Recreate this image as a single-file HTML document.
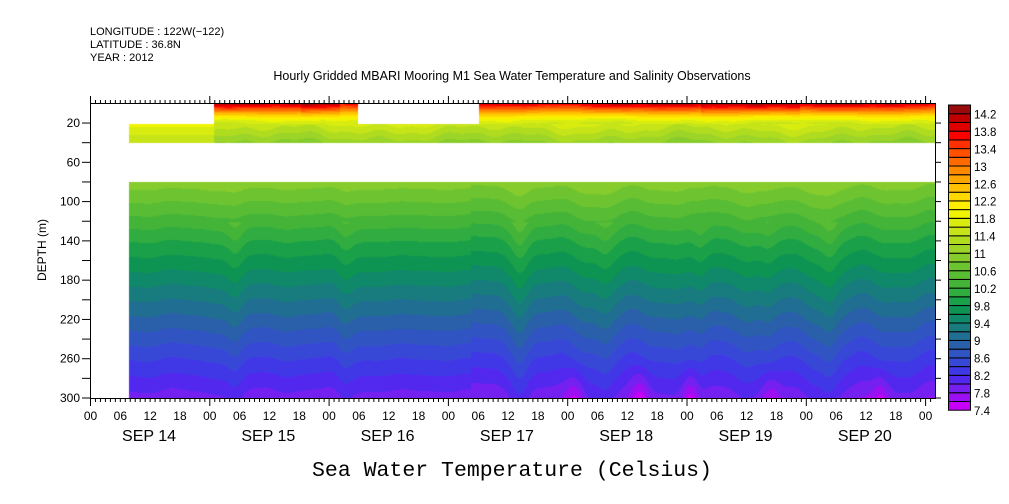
<!DOCTYPE html>
<html><head><meta charset="utf-8"><style>
html,body{margin:0;padding:0;background:#fff;}
#w{position:relative;width:1009px;height:504px;overflow:hidden;font-family:"Liberation Sans",sans-serif;}
canvas{position:absolute;left:90px;top:104px;}
svg{position:absolute;left:0;top:0;}
</style></head><body><div id="w">
<canvas id="c" width="845" height="294"></canvas>
<svg id="s" width="1009" height="504" font-family="Liberation Sans, sans-serif"></svg>
</div>
<script>
var P=["#c800f5","#9a10f2","#7420f0","#5228ee","#4038e6","#3848d6","#3055c2","#2a60aa","#206e92","#187c7e","#10886a","#0e9452","#1aa048","#30ac40","#44b438","#58bc34","#6ec430","#86cc2c","#9cd428","#b0dc20","#c6e418","#d8ec10","#f0f400","#ffee00","#ffd800","#ffc000","#ffa500","#ff8a00","#ff6a00","#ff5000","#ff3000","#ff0000","#e00000","#c00000","#9b0a0a"];
function hex(h){return [parseInt(h.substr(1,2),16),parseInt(h.substr(3,2),16),parseInt(h.substr(5,2),16)];}
var RGB=P.map(hex);
function ci(T){var i=Math.floor((T-7.4)/0.2);return i<0?0:i>34?34:i;}
var c=document.getElementById('c'),ctx=c.getContext('2d'),img=ctx.createImageData(845,294),d=img.data;
function n(x,s){return Math.sin(x*0.031+s)*0.5+Math.sin(x*0.083+s*2.1)*0.35+Math.sin(x*0.19+s*3.7)*0.2;}
function lowT(x,dep){
  var act=x>470?1:(x<340?0.4:0.2);
  var dip=0;
  [235,345,520,605,700,768,830].forEach(function(p,k){dip+=Math.exp(-Math.pow((x-p)/9,2))*(k%2?9:13);});
  var dd=dep-act*(n(x,1.3)*9+n(x,4.1)*6)*(0.4+dep/300)-dip*(dep>120?1:0.3);
  var T;
  if(dd<80)T=10.9;else if(dd<140)T=10.9-(dd-80)/60*0.9;else if(dd<200)T=10.0-(dd-140)/60*0.8;
  else if(dd<260)T=9.2-(dd-200)/60*0.8;else T=8.4-(dd-260)/40*0.5;
  if(dep>260&&x>480){var sp=0;[575,640,690,770,880].forEach(function(p){sp+=Math.exp(-Math.pow((x-p)/9,2));});T-=sp*0.4*(dep-260)/40;}
  return T;
}
function midT(x,dep){
  var f=(dep-20)/20;
  if(x<214)return 11.9-f*0.5;
  return 11.6-f*0.6+n(x,2.2)*0.2;
}
function topT(x,dep){
  var f=dep/20;var a=(x>700&&x<800)||(x>300&&x<340)?0.4:0;
  return 11.6+(2.4+a+n(x,0.7)*0.4)*Math.pow(1-f,1.4)+n(x,5)*0.15;
}
for(var py=0;py<294;py++){var dep=(py+104-103.4)/0.982;
 for(var px=0;px<845;px++){var X=px+90,T=null;
  if(dep>=80&&X>=129)T=lowT(X,dep);
  else if(dep>=20&&dep<40&&X>=129)T=midT(X,dep);
  else if(dep<20&&((X>=214&&X<358)||X>=479))T=topT(X,dep);
  var o=(py*845+px)*4;
  if(T===null){d[o]=d[o+1]=d[o+2]=255;}else{var r=RGB[ci(T)];d[o]=r[0];d[o+1]=r[1];d[o+2]=r[2];}
  d[o+3]=255;}}
ctx.putImageData(img,0,0);
var s='';
function L(x1,y1,x2,y2,w){s+='<line x1="'+x1+'" y1="'+y1+'" x2="'+x2+'" y2="'+y2+'" stroke="#000" stroke-width="'+(w||1)+'"/>';}
function Tx(x,y,t,sz,a,ex){s+='<text x="'+x+'" y="'+y+'" font-size="'+sz+'" text-anchor="'+(a||'start')+'" '+(ex||'')+'>'+t+'</text>';}
s+='<rect x="90.5" y="103.5" width="845" height="295" fill="none" stroke="#000"/>';
var day=119.3;
for(var h=0;h<=170;h++){var x=90.5+h*day/24;if(x>935)break;var big=h%24==0;
 L(x,398,x,big?406:402);L(x,104,x,big?96:100);
 if(h%6==0){var lb=['00','06','12','18'][(h/6)%4];Tx(x,420,lb,12,'middle');}}
var days=['SEP 14','SEP 15','SEP 16','SEP 17','SEP 18','SEP 19','SEP 20'];
for(var k=0;k<7;k++)Tx(90+k*day+59,441,days[k],16,'middle');
for(var dd=20;dd<=300;dd+=20){var y=103.4+dd*0.982;L(82,y,90,y);L(935,y,941,y);if(dd%40==20)Tx(80,y+4,dd,12,'end');}
s+='<text x="46" y="250" font-size="12" text-anchor="middle" transform="rotate(-90 46 250)">DEPTH (m)</text>';
for(var i=0;i<35;i++){var y0=105+(34-i)*8.72;s+='<rect x="948.5" y="'+y0.toFixed(1)+'" width="22" height="8.72" fill="'+P[i]+'" stroke="#000" stroke-width="1"/>';}
for(var v=7.4;v<14.3;v+=0.4){var y=410-(v-7.4)/0.2*8.72;Tx(974,y+5,(Math.round(v*10)/10).toString(),11.5);}
Tx(90,35,'LONGITUDE : 122W(&#8722;122)',11);Tx(90,48,'LATITUDE : 36.8N',11);Tx(90,61,'YEAR : 2012',11);
Tx(512,80,'Hourly Gridded MBARI Mooring M1 Sea Water Temperature and Salinity Observations',12.5,'middle');
Tx(512,476,'Sea Water Temperature (Celsius)',21.5,'middle','font-family="Liberation Mono, monospace"');
document.getElementById('s').innerHTML=s;
</script></body></html>
